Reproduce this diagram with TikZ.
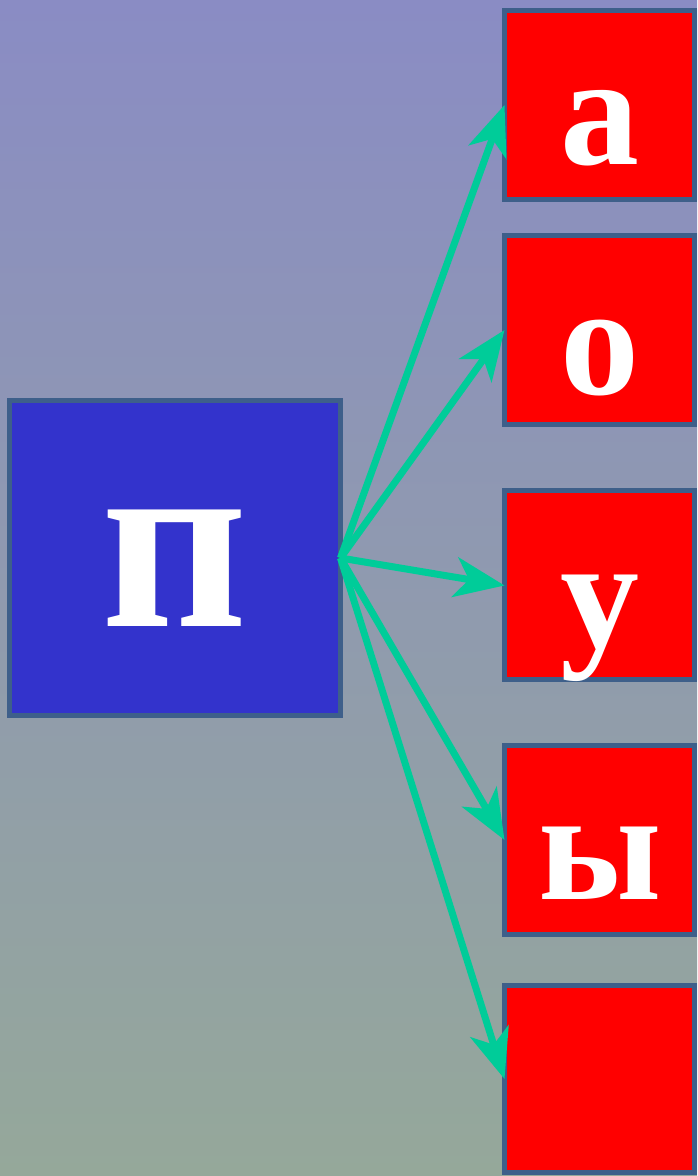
\documentclass[tikz,border=0pt]{standalone}
\usepackage{fontspec}
\newfontfamily\glyphfont{Liberation Serif}[Script=Cyrillic]
\usetikzlibrary{arrows.meta}

\definecolor{framecol}{HTML}{3E5F8A}
\definecolor{consblue}{HTML}{3333CC}
\definecolor{vowelred}{HTML}{FF0000}
\definecolor{arrowcol}{HTML}{00CC99}
\definecolor{bgtop}{HTML}{8A8CC4}
\definecolor{bgbottom}{HTML}{95A89A}

\begin{document}
\begin{tikzpicture}[x=1pt, y=1pt,
    vowelbox/.style={rectangle, draw=framecol, fill=vowelred, line width=5pt,
                     minimum width=190pt, minimum height=189pt, inner sep=0pt, outer sep=0pt},
    consbox/.style={rectangle, draw=framecol, fill=consblue, line width=5pt,
                    minimum width=331pt, minimum height=315pt, inner sep=0pt, outer sep=0pt},
    letter/.style={anchor=base, text=white, inner sep=0pt,
                   font=\glyphfont\bfseries\fontsize{158}{158}\selectfont},
    bigletter/.style={anchor=base, text=white, inner sep=0pt,
                      font=\glyphfont\bfseries\fontsize{254}{254}\selectfont},
    link/.style={draw=arrowcol, line width=7pt,
                 -{Stealth[length=50pt, width=40pt, inset=14pt]}}]
    \useasboundingbox (0,0) rectangle (697,1176);
    \shade[top color=bgtop, bottom color=bgbottom] (0,0) rectangle (697,1176);

    \node (p) at (175, 618) [consbox] {};
    \node (a) at (599.5, 1071) [vowelbox] {};
    \node (o) at (599.5, 846) [vowelbox] {};
    \node (u) at (599.5, 590.5) [vowelbox] {};
    \node (y) at (599.5, 336) [vowelbox] {};
    \node (e) at (599.5, 97) [vowelbox, minimum height=187pt] {};

    \node (pl) at (175, 549) [bigletter] {п};
    \node (al) at (600, 1011) [letter] {а};
    \node (ol) at (600, 781) [letter] {о};
    \node (ul) at (600, 528) [letter] {у};
    \node (yl) at (600, 276) [letter] {ы};

    \draw[link] (p.east) to (a.west);
    \draw[link] (p.east) to (o.west);
    \draw[link] (p.east) to (u.west);
    \draw[link] (p.east) to (y.west);
    \draw[link] (p.east) to (e.west);
\end{tikzpicture}
\end{document}
